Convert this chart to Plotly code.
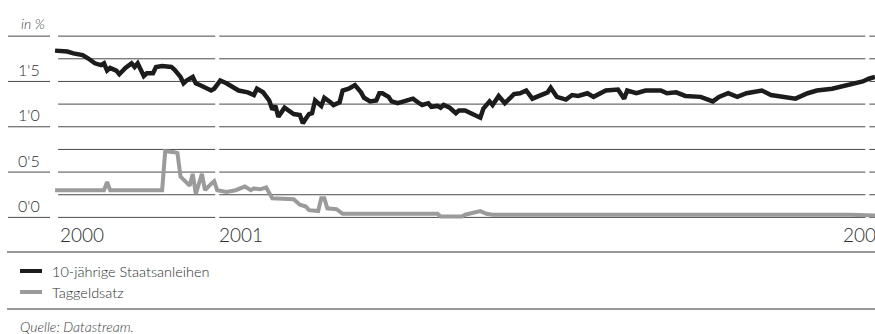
import plotly.graph_objects as go

# --- data (x in weeks from the start of 2000) ---
bond_weeks = [0, 3, 4, 6, 9, 11, 13, 15, 16, 17, 18, 20, 21, 23, 25, 26, 27, 29, 30, 32,
              33, 35, 38, 39, 41, 42, 43, 45, 46, 48, 51, 52, 54, 56, 58, 60, 63, 65, 66, 68,
              70, 71, 72, 73, 75, 77, 78, 80, 81, 82, 83, 84, 85, 87, 88, 90, 91, 93, 94, 96,
              98, 100, 101, 103, 105, 106, 107, 109, 110, 112, 114, 117, 119, 120, 122, 123, 125, 126, 127, 129,
              131, 132, 134, 136, 139, 140, 142, 143, 145, 147, 149, 150, 152, 154, 156, 158, 161, 162, 164, 167,
              169, 171, 172, 174, 176, 178, 180, 184, 186, 187, 190, 193, 198, 200, 203, 206, 211, 215, 217, 220,
              223, 226, 231, 234, 238, 242, 246, 249, 254, 258, 261, 264, 266, 268]
bond_yield = [1.84, 1.83, 1.83, 1.81, 1.79, 1.75, 1.70, 1.68, 1.70, 1.62, 1.65, 1.62, 1.58, 1.65, 1.70, 1.66, 1.70, 1.56, 1.59, 1.59,
              1.66, 1.67, 1.66, 1.63, 1.55, 1.48, 1.51, 1.55, 1.48, 1.45, 1.40, 1.42, 1.51, 1.48, 1.44, 1.40, 1.38, 1.35, 1.42, 1.38,
              1.29, 1.19, 1.23, 1.11, 1.21, 1.17, 1.14, 1.13, 1.04, 1.09, 1.14, 1.15, 1.29, 1.23, 1.32, 1.27, 1.24, 1.27, 1.40, 1.42,
              1.46, 1.38, 1.32, 1.28, 1.29, 1.37, 1.37, 1.33, 1.28, 1.26, 1.28, 1.31, 1.26, 1.24, 1.26, 1.22, 1.23, 1.21, 1.24, 1.21,
              1.15, 1.18, 1.18, 1.15, 1.10, 1.20, 1.28, 1.24, 1.34, 1.26, 1.32, 1.36, 1.37, 1.40, 1.31, 1.34, 1.38, 1.43, 1.33, 1.30,
              1.35, 1.34, 1.35, 1.37, 1.33, 1.37, 1.40, 1.41, 1.31, 1.40, 1.37, 1.40, 1.40, 1.37, 1.38, 1.34, 1.33, 1.28, 1.33, 1.37,
              1.33, 1.37, 1.40, 1.35, 1.33, 1.31, 1.37, 1.40, 1.42, 1.45, 1.48, 1.50, 1.53, 1.55]

call_weeks = [0, 16, 17, 18, 35, 36, 39, 40, 41, 42, 44, 45, 46, 48, 49, 51, 52, 53, 56, 59,
              62, 64, 65, 67, 69, 71, 78, 80, 82, 83, 86, 87, 88, 89, 92, 94, 125, 126, 133, 134,
              139, 141, 143, 260, 268]
call_rate = [0.30, 0.30, 0.39, 0.30, 0.30, 0.73, 0.72, 0.71, 0.45, 0.42, 0.35, 0.48, 0.26, 0.48, 0.30, 0.37, 0.40, 0.30, 0.28, 0.30,
             0.34, 0.30, 0.32, 0.31, 0.33, 0.21, 0.20, 0.14, 0.12, 0.08, 0.07, 0.21, 0.21, 0.10, 0.09, 0.04, 0.04, 0.01, 0.01, 0.03,
             0.07, 0.04, 0.03, 0.03, 0.02]

bond_name = "10-jährige Staatsanleihen"
call_name = "Taggeldsatz"

tick_weeks = [1, 53, 265.5]
tick_text = ["2000", "2001", "2002"]
label_levels = [0.0, 0.5, 1.0, 1.5]
label_text = ["0'0", "0'5", "1'0", "1'5"]
grid_levels = [0.0, 0.25, 0.5, 0.75, 1.0, 1.25, 1.5, 1.75, 2.0]
unit_text = "in %"
source_text = "Quelle: Datastream."

# --- styling ---
W, H = 875, 334
M_TOP, M_BOT = 18, 103
X_RANGE = [-18, 268]
Y_RANGE = [-0.15, 2.2]
BLACK = "#1c1c1c"
GREY = "#9b9b9b"
GRID = "#4a4a4a"
TEXT = "#2e2e2e"
FONT = "Lato"
LIGHT = 300
GAP = 0.65  # half-width of the break in the grid lines at each tick


def px(p):
    return p / W


def py(p):
    # pixel row -> paper fraction for the plot margins above
    return 1 - (p - M_TOP) / (H - M_TOP - M_BOT)


def font(size, color=TEXT):
    return dict(family=FONT, size=size, color=color, weight=LIGHT)


fig = go.Figure()
fig.add_trace(go.Scatter(x=call_weeks, y=call_rate, mode="lines", name=call_name,
                         line=dict(color=GREY, width=4), showlegend=False))
fig.add_trace(go.Scatter(x=bond_weeks, y=bond_yield, mode="lines", name=bond_name,
                         line=dict(color=BLACK, width=4.5), showlegend=False))

shapes = []
# grid lines, broken at each tick
seg_bounds = [(tick_weeks[0], tick_weeks[1] - GAP),
              (tick_weeks[1] + GAP, tick_weeks[2] - GAP),
              (tick_weeks[2] + GAP, X_RANGE[1])]
for lv in grid_levels:
    for a, b in seg_bounds:
        shapes.append(dict(type="line", xref="x", yref="y", x0=a, x1=b, y0=lv, y1=lv,
                           line=dict(color=GRID, width=1), layer="below"))
# short rules in the label column
for lv in label_levels + [2.0]:
    shapes.append(dict(type="line", xref="paper", yref="y", x0=px(8), x1=px(50), y0=lv, y1=lv,
                       line=dict(color=GRID, width=1)))
# separators around the legend
for yy in (252, 309):
    shapes.append(dict(type="line", xref="paper", yref="paper", x0=px(7), x1=1,
                       y0=py(yy), y1=py(yy), line=dict(color="#333333", width=1)))
# legend samples
for row_y, col in ((271, BLACK), (292, GREY)):
    shapes.append(dict(type="line", xref="paper", yref="paper", x0=px(20), x1=px(42),
                       y0=py(row_y), y1=py(row_y), line=dict(color=col, width=4)))

annotations = []
for lv, txt in zip(label_levels, label_text):
    annotations.append(dict(x=px(42), xref="paper", y=lv, yref="y", text=txt, showarrow=False,
                            xanchor="right", yanchor="middle", yshift=12, font=font(16)))
annotations.append(dict(x=px(47), xref="paper", y=2.0, yref="y", text="<i>" + unit_text + "</i>",
                        showarrow=False, xanchor="right", yanchor="middle", yshift=13,
                        font=font(14, "#444444")))
for i, (tw, txt) in enumerate(zip(tick_weeks, tick_text)):
    annotations.append(dict(x=tw, xref="x", y=0, yref="y", text=txt, showarrow=False,
                            xanchor="left", yanchor="middle", yshift=-17,
                            xshift=(-26 if i == len(tick_weeks) - 1 else 0), font=font(19)))
for row_y, name in ((271, bond_name), (292, call_name)):
    annotations.append(dict(x=px(50), xref="paper", y=py(row_y), yref="paper", text=name,
                            showarrow=False, xanchor="left", yanchor="middle", font=font(14.5)))
annotations.append(dict(x=px(18), xref="paper", y=py(326), yref="paper",
                        text="<i>" + source_text + "</i>", showarrow=False,
                        xanchor="left", yanchor="middle", font=font(14, "#3a3a3a")))

fig.update_layout(
    width=W, height=H,
    margin=dict(l=0, r=0, t=M_TOP, b=M_BOT, pad=0),
    paper_bgcolor="white", plot_bgcolor="white",
    xaxis=dict(range=X_RANGE, showgrid=False, zeroline=False, showticklabels=False,
               showline=False, fixedrange=True),
    yaxis=dict(range=Y_RANGE, showgrid=False, zeroline=False, showticklabels=False,
               showline=False, fixedrange=True),
    shapes=shapes, annotations=annotations,
    showlegend=False,
)

fig.write_html("out.html", config={"displayModeBar": False})
